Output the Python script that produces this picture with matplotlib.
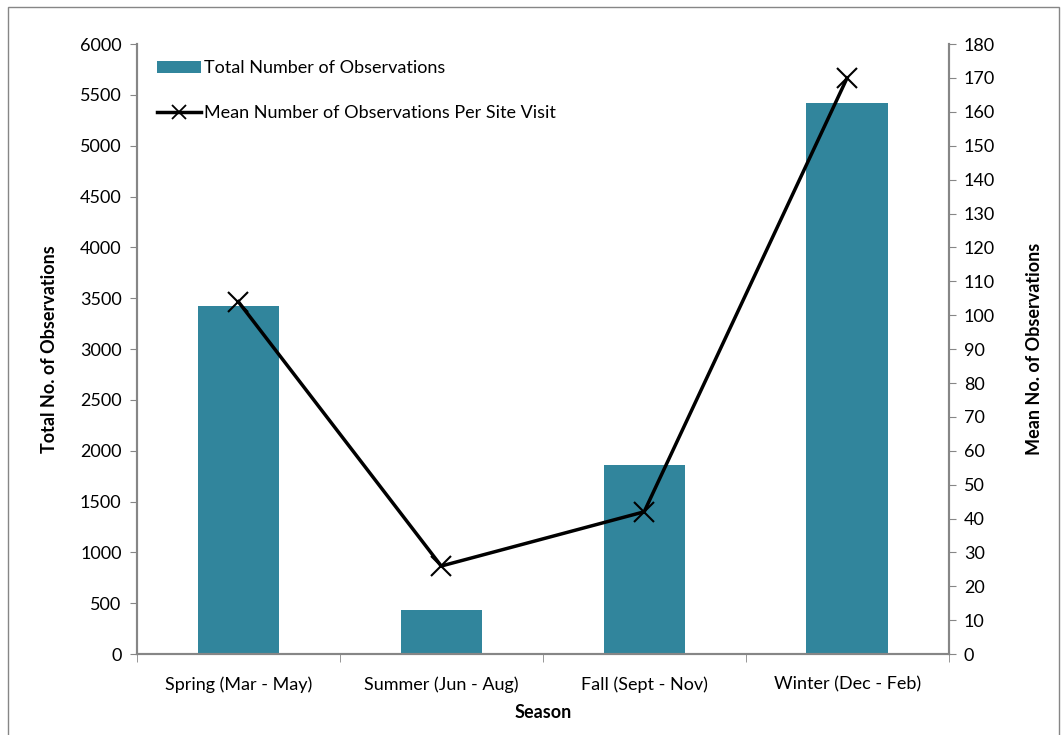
import numpy as np
import matplotlib
matplotlib.use("Agg")
from matplotlib import pyplot as plt
from matplotlib.patches import Rectangle
from matplotlib.lines import Line2D

plt.rcParams['font.family'] = ['Lato', 'DejaVu Sans']

seasons = ['Spring (Mar - May)', 'Summer (Jun - Aug)', 'Fall (Sept - Nov)', 'Winter (Dec - Feb)']
total_obs = [3420, 435, 1860, 5425]
mean_obs = [104, 26, 42, 170]

bar_color = '#31859C'
grey = '#868686'

fig = plt.figure(figsize=(10.61, 7.35), dpi=100)
fig.patches.append(Rectangle((0.008, -0.01), 0.99, 1.0, transform=fig.transFigure,
                             fill=False, edgecolor=grey, linewidth=1.0))
ax = fig.add_axes([0.129, 0.110, 0.765, 0.830])
ax2 = ax.twinx()

x = np.arange(len(seasons))
b = ax.bar(x, total_obs, width=0.4, color=bar_color, label='Total Number of Observations', zorder=2)
l, = ax2.plot(x, mean_obs, color='black', lw=2.5, marker='x', markersize=15,
              markeredgewidth=1.5, label='Mean Number of Observations Per Site Visit')
l_proxy = Line2D([], [], color='black', lw=2.5, marker='x', markersize=10, markeredgewidth=1.3)

ax.set_xlim(-0.5, 3.5)
ax.set_ylim(0, 6000)
ax.set_yticks(np.arange(0, 6001, 500))
ax2.set_ylim(0, 180)
ax2.set_yticks(np.arange(0, 181, 10))

ax.set_xticks(x)
ax.set_xticklabels(seasons)
ax.set_xticks(np.arange(-0.5, 4, 1), minor=True)
ax.tick_params(axis='x', which='major', length=0, pad=16, labelsize=13)
ax.tick_params(axis='x', which='minor', length=6, color=grey, direction='out')
ax.tick_params(axis='y', length=5, color=grey, labelsize=13, pad=6)
ax2.tick_params(axis='y', length=5, color=grey, labelsize=13, pad=6)

for a in (ax, ax2):
    a.spines['top'].set_visible(False)
    for s in ('left', 'right', 'bottom'):
        a.spines[s].set_color(grey)
        a.spines[s].set_linewidth(1.5)

ax.set_ylabel('Total No. of Observations', fontsize=13, fontweight='bold', labelpad=16)
ax2.set_ylabel('Mean No. of Observations', fontsize=13, fontweight='bold', labelpad=22)
ax.set_xlabel('Season', fontsize=13, fontweight='bold', labelpad=8)

ax2.legend([b, l_proxy], [b.get_label(), l.get_label()], loc='upper left', frameon=False,
           fontsize=13, handlelength=2.4, handletextpad=0.2, labelspacing=1.6,
           bbox_to_anchor=(0.005, 1.0))

fig.savefig('out.png', dpi=100)
